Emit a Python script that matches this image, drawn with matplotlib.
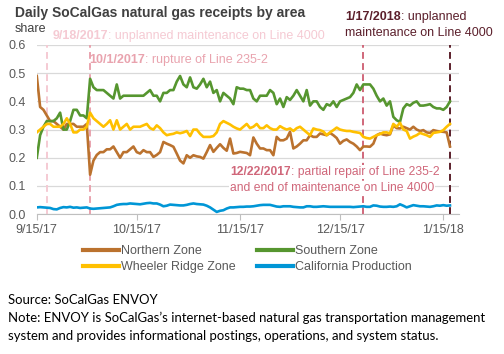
import numpy as np
import pandas as pd
import matplotlib
matplotlib.use("Agg")
import matplotlib.pyplot as plt

plt.rcParams["font.family"] = ["Liberation Sans", "DejaVu Sans"]

# daily shares, 9/15/2017 .. 1/17/2018
START = "2017-09-15"

northern = [
    0.49, 0.38, 0.37, 0.35, 0.33, 0.33, 0.32, 0.31, 0.30, 0.32,
    0.32, 0.32, 0.31, 0.31, 0.31, 0.32, 0.14, 0.19, 0.21, 0.22,
    0.22, 0.23, 0.23, 0.24, 0.22, 0.20, 0.22, 0.22, 0.23, 0.24,
    0.22, 0.215, 0.227, 0.22, 0.22, 0.203, 0.21, 0.22, 0.256, 0.25,
    0.245, 0.239, 0.215, 0.19, 0.18, 0.209, 0.20, 0.209, 0.205, 0.203,
    0.197, 0.22, 0.245, 0.221, 0.235, 0.248, 0.235, 0.225, 0.268, 0.215,
    0.217, 0.221, 0.219, 0.217, 0.209, 0.272, 0.25, 0.233, 0.233, 0.227,
    0.227, 0.209, 0.274, 0.262, 0.262, 0.268, 0.292, 0.233, 0.24, 0.25,
    0.262, 0.262, 0.28, 0.274, 0.274, 0.286, 0.283, 0.28, 0.288, 0.28,
    0.27, 0.25, 0.26, 0.265, 0.256, 0.25, 0.24, 0.227, 0.24, 0.24,
    0.239, 0.25, 0.28, 0.286, 0.282, 0.28, 0.283, 0.315, 0.305, 0.304,
    0.31, 0.305, 0.30, 0.31, 0.30, 0.295, 0.298, 0.29, 0.288, 0.298,
    0.295, 0.293, 0.292, 0.29, 0.24,
]

southern = [
    0.20, 0.28, 0.31, 0.33, 0.33, 0.33, 0.34, 0.36, 0.30, 0.30,
    0.33, 0.37, 0.37, 0.35, 0.35, 0.34, 0.48, 0.45, 0.44, 0.44,
    0.44, 0.43, 0.42, 0.41, 0.46, 0.41, 0.42, 0.42, 0.42, 0.42,
    0.42, 0.42, 0.42, 0.43, 0.44, 0.42, 0.42, 0.40, 0.43, 0.43,
    0.44, 0.44, 0.47, 0.49, 0.46, 0.45, 0.485, 0.45, 0.445, 0.46,
    0.48, 0.45, 0.47, 0.43, 0.44, 0.40, 0.43, 0.42, 0.41, 0.39,
    0.45, 0.445, 0.445, 0.44, 0.44, 0.41, 0.40, 0.42, 0.42, 0.42,
    0.44, 0.43, 0.39, 0.41, 0.38, 0.415, 0.405, 0.42, 0.44, 0.42,
    0.40, 0.44, 0.385, 0.40, 0.40, 0.38, 0.37, 0.39, 0.385, 0.40,
    0.38, 0.40, 0.405, 0.41, 0.415, 0.43, 0.46, 0.44, 0.46, 0.46,
    0.46, 0.445, 0.42, 0.40, 0.41, 0.385, 0.40, 0.345, 0.333, 0.327,
    0.375, 0.39, 0.385, 0.395, 0.40, 0.385, 0.385, 0.387, 0.39, 0.38,
    0.375, 0.375, 0.37, 0.38, 0.40,
]

wheeler = [
    0.29, 0.30, 0.31, 0.32, 0.32, 0.31, 0.31, 0.31, 0.32, 0.34,
    0.32, 0.29, 0.29, 0.30, 0.30, 0.31, 0.36, 0.34, 0.33, 0.32,
    0.31, 0.32, 0.333, 0.30, 0.333, 0.30, 0.31, 0.32, 0.30, 0.31,
    0.31, 0.31, 0.315, 0.32, 0.305, 0.30, 0.315, 0.305, 0.29, 0.28,
    0.283, 0.285, 0.29, 0.287, 0.29, 0.295, 0.277, 0.30, 0.30, 0.285,
    0.274, 0.274, 0.274, 0.277, 0.29, 0.32, 0.33, 0.324, 0.318, 0.31,
    0.304, 0.30, 0.31, 0.32, 0.305, 0.31, 0.32, 0.305, 0.305, 0.315,
    0.305, 0.30, 0.30, 0.312, 0.305, 0.30, 0.304, 0.295, 0.305, 0.31,
    0.30, 0.29, 0.28, 0.304, 0.30, 0.298, 0.293, 0.28, 0.29, 0.298,
    0.307, 0.30, 0.297, 0.295, 0.295, 0.292, 0.29, 0.288, 0.274, 0.27,
    0.268, 0.274, 0.28, 0.284, 0.29, 0.29, 0.286, 0.32, 0.31, 0.324,
    0.30, 0.295, 0.268, 0.275, 0.28, 0.288, 0.284, 0.28, 0.274, 0.288,
    0.29, 0.292, 0.298, 0.31, 0.32,
]

california = [
    0.024, 0.025, 0.024, 0.023, 0.022, 0.018, 0.017, 0.022, 0.025, 0.024,
    0.026, 0.023, 0.024, 0.022, 0.023, 0.024, 0.020, 0.019, 0.020, 0.021,
    0.022, 0.023, 0.024, 0.028, 0.033, 0.035, 0.036, 0.036, 0.038, 0.037,
    0.036, 0.035, 0.037, 0.039, 0.040, 0.038, 0.038, 0.034, 0.028, 0.030,
    0.034, 0.033, 0.032, 0.031, 0.031, 0.033, 0.036, 0.038, 0.036, 0.035,
    0.034, 0.030, 0.024, 0.016, 0.008, 0.012, 0.014, 0.020, 0.024, 0.024,
    0.025, 0.026, 0.026, 0.027, 0.027, 0.028, 0.030, 0.032, 0.033, 0.033,
    0.033, 0.030, 0.027, 0.026, 0.028, 0.028, 0.028, 0.026, 0.025, 0.024,
    0.024, 0.028, 0.028, 0.026, 0.026, 0.027, 0.028, 0.027, 0.026, 0.026,
    0.026, 0.026, 0.026, 0.026, 0.026, 0.025, 0.026, 0.027, 0.028, 0.026,
    0.026, 0.031, 0.030, 0.027, 0.026, 0.026, 0.027, 0.026, 0.028, 0.035,
    0.030, 0.024, 0.028, 0.032, 0.030, 0.028, 0.028, 0.027, 0.026, 0.028,
    0.031, 0.030, 0.032, 0.030, 0.031,
]

series = [
    ("Northern Zone", northern, "#BB722E"),
    ("Southern Zone", southern, "#56962F"),
    ("Wheeler Ridge Zone", wheeler, "#FFC000"),
    ("California Production", california, "#0096D6"),
]

# event dates and their colours
events = [
    ("2017-09-18", "#F5CAD3"),
    ("2017-10-01", "#E9A3AE"),
    ("2017-12-22", "#D0677A"),
    ("2018-01-17", "#5B1F2B"),
]

fig = plt.figure(figsize=(5.04, 3.54), dpi=100)
ax = fig.add_axes([0.073, 0.395, 0.838, 0.478])

lines = {}
for name, vals, col in series:
    dates = pd.date_range(START, periods=len(vals), freq="D")
    ln, = ax.plot(dates, vals, color=col, lw=1.9, label=name, solid_joinstyle="round", zorder=3)
    lines[name] = ln

for d, col in events:
    ax.axvline(pd.Timestamp(d), color=col, lw=1.4, ls=(0, (3.5, 2.2)), zorder=2)

ax.set_ylim(0, 0.6)
ax.set_yticks(np.arange(0, 0.61, 0.1))
ax.set_yticklabels([f"{v:.1f}" for v in np.arange(0, 0.61, 0.1)])
ax.set_xlim(pd.Timestamp("2017-09-15"), pd.Timestamp("2018-01-19 18:00"))
xt = pd.to_datetime(["2017-09-15", "2017-10-15", "2017-11-15", "2017-12-15", "2018-01-15"])
ax.set_xticks(xt)
ax.set_xticklabels(["9/15/17", "10/15/17", "11/15/17", "12/15/17", "1/15/18"])

ax.grid(axis="y", color="#D9D9D9", lw=0.9)
ax.set_axisbelow(True)
for s in ["top", "right", "left"]:
    ax.spines[s].set_visible(False)
ax.spines["bottom"].set_color("#BFBFBF")
ax.tick_params(axis="y", length=0, labelsize=9, labelcolor="#595959", pad=8)
ax.tick_params(axis="x", length=4, color="#BFBFBF", labelsize=9, labelcolor="#595959", pad=3)

# titles
fig.text(15 / 504, 1 - 13 / 354, "Daily SoCalGas natural gas receipts by area", fontsize=10,
         fontweight="bold", color="#404040", va="center")
fig.text(15 / 504, 1 - 29 / 354, "share", fontsize=9, color="#404040", va="center")


def event_label(x, y, bold, rest, col, size=9, box=None):
    # bold date followed by the plain description
    t = fig.text(x / 504, 1 - y / 354, bold, fontsize=size, fontweight="bold", color=col,
                 va="center", bbox=box)
    fig.canvas.draw()
    x1 = t.get_window_extent().x1
    fig.text(x1 / 504, 1 - y / 354, rest, fontsize=size, color=col, va="center", bbox=box)


event_label(53, 36, "9/18/2017", ": unplanned maintenance on Line 4000", "#F5CAD3")
event_label(89, 60, "10/1/2017", ": rupture of Line 235-2", "#E9A3AE")
event_label(345, 17, "1/17/2018", ": unplanned", "#5B1F2B")
fig.text(345 / 504, 1 - 33 / 354, "maintenance on Line 4000", fontsize=9, color="#5B1F2B", va="center")

bg = dict(facecolor="white", edgecolor="none", pad=0.5)
event_label(230, 172, "12/22/2017", ": partial repair of Line 235-2", "#D0677A", size=8.7, box=bg)
fig.text(230 / 504, 1 - 188 / 354, "and end of maintenance on Line 4000", fontsize=8.7,
         color="#D0677A", va="center", bbox=bg)

order = ["Northern Zone", "Wheeler Ridge Zone", "Southern Zone", "California Production"]
leg = fig.legend([lines[n] for n in order], order, loc="center",
                 bbox_to_anchor=(0.49, 1 - 259 / 354), ncol=2, frameon=False,
                 fontsize=9, handlelength=2.9, columnspacing=1.7, handletextpad=0.15,
                 labelspacing=0.3)
for txt in leg.get_texts():
    txt.set_color("#595959")
for h in leg.get_lines():
    h.set_linewidth(3)

foot = dict(fontsize=9.45, color="black", va="center", family=["Lato", "DejaVu Sans"])
fig.text(8 / 504, 1 - 300 / 354, "Source: SoCalGas ENVOY", **foot)
fig.text(8 / 504, 1 - 318 / 354,
         "Note: ENVOY is SoCalGas\u2019s internet-based natural gas transportation management", **foot)
fig.text(8 / 504, 1 - 336 / 354,
         "system and provides informational postings, operations, and system status.", **foot)

fig.savefig("out.png", dpi=100)
